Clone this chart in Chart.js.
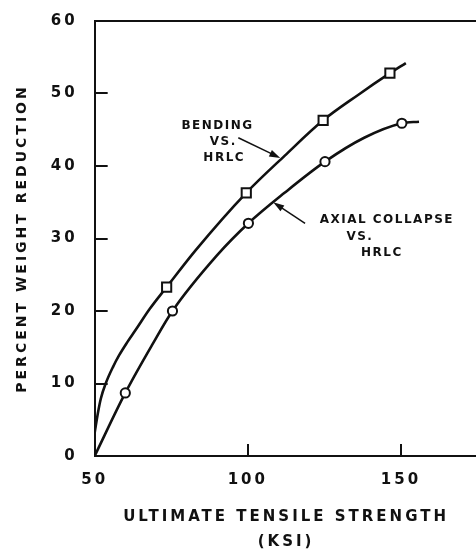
<!DOCTYPE html>
<html>
<head>
<meta charset="utf-8">
<script src="https://cdn.jsdelivr.net/npm/chart.js@4/dist/chart.umd.min.js"></script>
<style>
  html, body { margin: 0; padding: 0; background: #fff; overflow: hidden; }
  #wrap { position: relative; width: 486px; height: 555px; }
</style>
</head>
<body>
<div id="wrap"><canvas id="chart"></canvas></div>
<script>
const INK  = '#111';
const FONT = '"DejaVu Sans", sans-serif';

// axis ticks
const X_TICKS = [50, 100, 150];
const Y_TICKS = [0, 10, 20, 30, 40, 50, 60];

// bending vs. HRLC -- plotted squares + traced curve
const bendPtsX   = [73.5, 99.5, 124.6, 146.4];
const bendPtsY   = [23.3, 36.3, 46.3, 52.8];
const bendCurveX = [50, 51, 52, 53.6, 56, 58, 60.5, 63.4, 68, 73.5, 83, 99.5, 112, 124.6, 136, 146.4, 151.6];
const bendCurveY = [3.2, 5.8, 7.9, 10, 12.3, 13.9, 15.6, 17.4, 20.3, 23.3, 28.4, 36.3, 41.4, 46.3, 49.8, 52.8, 54.2];

// axial collapse vs. HRLC -- plotted circles + traced curve
const axialPtsX   = [60, 75.4, 100.2, 125.2, 150.3];
const axialPtsY   = [8.7, 20, 32.1, 40.6, 45.9];
const axialCurveX = [50, 60, 69, 75.4, 90, 100.2, 112, 125.2, 138, 150.3, 155.9];
const axialCurveY = [0, 8.7, 15.5, 20, 27.7, 32.1, 36.3, 40.6, 43.9, 45.9, 46.1];

// callouts (data units)
const NOTES = [
  { text: 'BENDING',        x: 90.1,  y: 45.5 },
  { text: 'VS.',            x: 92,    y: 43.3 },
  { text: 'HRLC',           x: 92.3,  y: 41.1 },
  { text: 'AXIAL COLLAPSE', x: 145.4, y: 32.6 },
  { text: 'VS.',            x: 136.6, y: 30.2 },
  { text: 'HRLC',           x: 143.8, y: 28 },
];
const ARROWS = [
  { from: [96.9, 43.9],  to: [110.6, 41.1] },
  { from: [118.7, 32.1], to: [108.3, 35.0] },
];

const pts = (xs, ys) => xs.map((x, i) => ({ x, y: ys[i] }));

function arrow(ctx, x1, y1, x2, y2) {
  const a = Math.atan2(y2 - y1, x2 - x1), len = 11, wid = 3.5;
  const c = Math.cos(a), s = Math.sin(a);
  ctx.beginPath();
  ctx.moveTo(x1, y1);
  ctx.lineTo(x2 - c * len * 0.8, y2 - s * len * 0.8);
  ctx.stroke();
  ctx.beginPath();
  ctx.moveTo(x2, y2);
  ctx.lineTo(x2 - len * c + wid * s, y2 - len * s - wid * c);
  ctx.lineTo(x2 - len * c - wid * s, y2 - len * s + wid * c);
  ctx.closePath();
  ctx.fill();
}

// callout text, inward tick marks and arrows
const extras = {
  id: 'extras',
  beforeLayout(chart) { chart.ctx.letterSpacing = '3px'; },
  beforeDraw(chart)   { chart.ctx.letterSpacing = '3px'; },
  afterDraw(chart) {
    const ctx = chart.ctx;
    const a = chart.chartArea;
    const xs = chart.scales.x, ys = chart.scales.y;
    ctx.save();
    ctx.strokeStyle = INK;
    ctx.fillStyle = INK;

    ctx.letterSpacing = '1.5px';
    ctx.font = 'bold 12px ' + FONT;
    ctx.textAlign = 'center';
    ctx.textBaseline = 'middle';
    NOTES.forEach(n => ctx.fillText(n.text, xs.getPixelForValue(n.x), ys.getPixelForValue(n.y)));

    // ticks point into the plot
    ctx.beginPath();
    Y_TICKS.slice(1, -1).forEach(v => {
      ctx.rect(a.left, Math.round(ys.getPixelForValue(v)) - 1, 13, 2);
    });
    X_TICKS.slice(1).forEach(v => {
      ctx.rect(Math.round(xs.getPixelForValue(v)) - 1, a.bottom - 12, 2, 12);
    });
    ctx.fill();

    ctx.lineWidth = 1.5;
    ARROWS.forEach(r => arrow(ctx,
      xs.getPixelForValue(r.from[0]), ys.getPixelForValue(r.from[1]),
      xs.getPixelForValue(r.to[0]),   ys.getPixelForValue(r.to[1])));
    ctx.restore();
  }
};

const curve = (data) => ({
  data, showLine: true, order: 1,
  borderColor: INK, borderWidth: 2.6,
  pointRadius: 0, cubicInterpolationMode: 'monotone',
});
const marks = (data, style, r) => ({
  data, showLine: false, order: 0,
  pointStyle: style, pointRadius: r,
  pointBorderWidth: 2, pointBorderColor: INK, pointBackgroundColor: '#fff',
});

new Chart(document.getElementById('chart'), {
  type: 'scatter',
  data: {
    datasets: [
      marks(pts(bendPtsX, bendPtsY), 'rect', 6.5),
      marks(pts(axialPtsX, axialPtsY), 'circle', 4.6),
      curve(pts(bendCurveX, bendCurveY)),
      curve(pts(axialCurveX, axialCurveY)),
    ],
  },
  options: {
    responsive: true,
    maintainAspectRatio: false,
    animation: false,
    events: [],
    layout: { padding: { left: 10, top: 21, right: 0, bottom: 0 } },
    plugins: { legend: { display: false }, tooltip: { enabled: false } },
    scales: {
      x: {
        type: 'linear', min: 50, max: 175,
        afterBuildTicks: s => { s.ticks = X_TICKS.map(v => ({ value: v })); },
        grid: { display: false, drawTicks: false },
        border: { display: true, color: INK, width: 2 },
        ticks: { color: INK, padding: 15, maxRotation: 0, font: { family: FONT, size: 15, weight: 'bold' } },
        title: {
          display: true, text: ['ULTIMATE TENSILE STRENGTH', '(KSI)'], color: INK,
          font: { family: FONT, size: 15, weight: 'bold', lineHeight: 25 / 15 },
          padding: { top: 1, bottom: 0 },
        },
      },
      x2: {
        type: 'linear', position: 'top', min: 50, max: 175,
        grid: { display: false, drawTicks: false },
        border: { display: true, color: INK, width: 2 },
        ticks: { display: false },
      },
      y: {
        min: 0, max: 60,
        afterBuildTicks: s => { s.ticks = Y_TICKS.map(v => ({ value: v })); },
        grid: { display: false, drawTicks: true, tickLength: 12 },
        border: { display: true, color: INK, width: 2 },
        ticks: { color: INK, padding: 5, font: { family: FONT, size: 15, weight: 'bold' } },
        title: {
          display: true, text: 'PERCENT WEIGHT REDUCTION', color: INK,
          font: { family: FONT, size: 14, weight: 'bold' },
          padding: { top: 4, bottom: 15 },
        },
      },
    },
  },
  plugins: [extras],
});
</script>
</body>
</html>
